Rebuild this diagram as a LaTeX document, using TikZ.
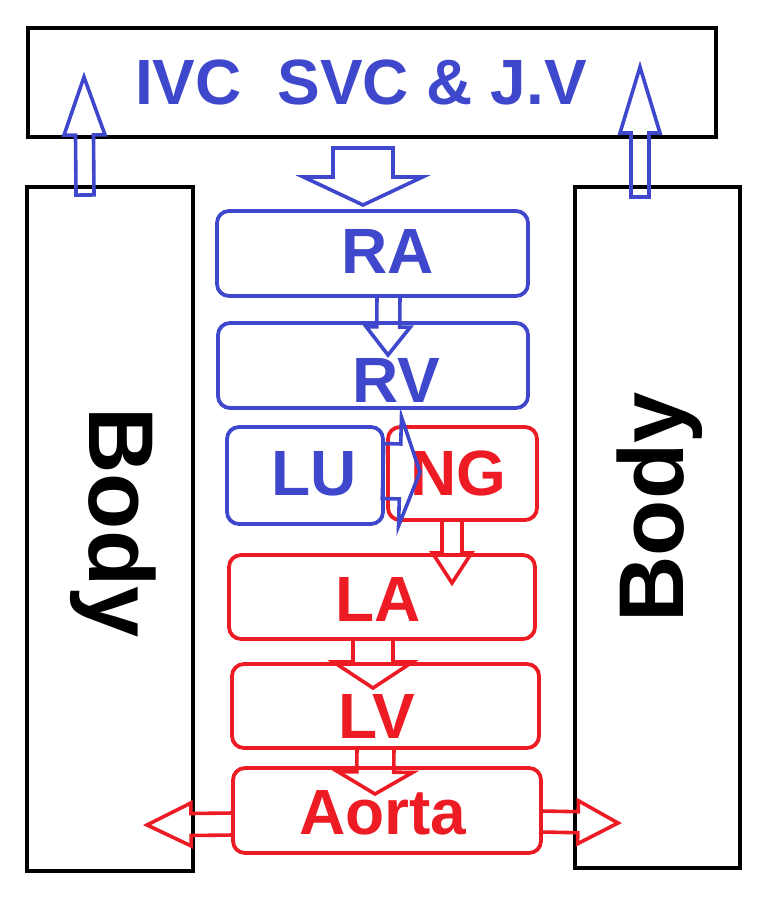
\documentclass[tikz,border=0pt]{standalone}
\usepackage{fontspec}
\setmainfont{Liberation Sans}
\usetikzlibrary{calc}

\definecolor{venblue}{RGB}{63,72,204}
\definecolor{artred}{RGB}{237,28,36}

% hollow block arrow: [colour]{tail}{tip}{half shaft}{half head}{head length}
\newcommand{\flowarrow}[6][venblue]{%
  \coordinate (fa-base) at ($#3!#6!#2$);
  \draw[flow, draw=#1] ($#2!#4!90:#3$) -- ($(fa-base)!#4!90:#3$)
    -- ($(fa-base)!#5!90:#3$) -- #3 -- ($(fa-base)!#5!-90:#3$)
    -- ($(fa-base)!#4!-90:#3$) -- ($#2!#4!-90:#3$) -- cycle;
}

\begin{document}
\begin{tikzpicture}[
  x=1pt, y=-1pt,
  lbl/.style={font=\fontsize{64}{64}\selectfont\bfseries},
  big/.style={font=\fontsize{92}{92}\selectfont\bfseries},
  frame/.style={draw=black, line width=4.5pt, inner sep=0pt, outer sep=0pt},
  chamber/.style={draw=#1, line width=3.8pt, rounded corners=12pt, inner sep=0pt, outer sep=0pt},
  flow/.style={line width=3.6pt, line join=miter}
]
  \useasboundingbox (0,0) rectangle (768,900);

  % veins and body
  \node[frame, minimum width=688, minimum height=109,
    label={[lbl, venblue, xshift=-11]center:{IVC\ \ SVC \& J.V}}] (veins) at (372,82.5) {};
  \node[frame, minimum width=166, minimum height=684,
    label={[big, xshift=3.5, yshift=6.5, rotate=-90]center:Body}] (bodyL) at (110,529) {};
  \node[frame, minimum width=165, minimum height=681,
    label={[big, xshift=2, yshift=20, rotate=90]center:Body}] (bodyR) at (657.5,527.5) {};

  % chambers
  \node[chamber=venblue, minimum width=311, minimum height=85,
    label={[lbl, venblue, xshift=15, yshift=2]center:RA}] (RA) at (372.5,253.5) {};
  \node[chamber=venblue, minimum width=310, minimum height=85,
    label={[lbl, venblue, xshift=23, yshift=-14.5]center:RV}] (RV) at (373,365.5) {};
  \node[chamber=venblue, minimum width=156, minimum height=97,
    label={[lbl, venblue, xshift=9.5, yshift=2]center:LU}] (LU) at (305,475.5) {};
  \node[chamber=artred, minimum width=149, minimum height=93,
    label={[lbl, artred, xshift=-4.5]center:NG}] (NG) at (462.5,473.5) {};
  \node[chamber=artred, minimum width=306, minimum height=84,
    label={[lbl, artred, xshift=-4, yshift=-2]center:LA}] (LA) at (382,597) {};
  \node[chamber=artred, minimum width=307, minimum height=84,
    label={[lbl, artred, xshift=-8.5, yshift=-10]center:LV}] (LV) at (385.5,706) {};
  \node[chamber=artred, minimum width=308, minimum height=85,
    label={[lbl, artred, xshift=-4, yshift=-2]center:Aorta}] (aorta) at (387,810.5) {};

  % return to the heart
  \flowarrow{([shift={(-25,8)}]bodyL.north)}{([shift={(56,-60)}]veins.south west)}{9pt}{20.5pt}{58pt}
  \flowarrow{([shift={(-17.5,10)}]bodyR.north)}{([shift={(-76,-70)}]veins.south east)}{9pt}{20pt}{66pt}
  \flowarrow{([shift={(-9,11)}]veins.south)}{([shift={(-9.5,-6)}]RA.north)}{30pt}{59.5pt}{28pt}
  \flowarrow{([xshift=16]RA.south)}{([shift={(15,32)}]RV.north)}{11.5pt}{22pt}{28pt}

  % through the lung
  \flowarrow{([yshift=4.5]LU.east)}{([shift={(32,-1.5)}]NG.west)}{27.5pt}{54.5pt}{20pt}
  \flowarrow[artred]{([xshift=-10.5]NG.south)}{([shift={(70,28)}]LA.north)}{10pt}{19.5pt}{30pt}
  \flowarrow[artred]{([xshift=-9]LA.south)}{([shift={(-12.5,24)}]LV.north)}{20pt}{39.5pt}{26pt}
  \flowarrow[artred]{([xshift=-10]LV.south)}{([shift={(-12,26)}]aorta.north)}{18.5pt}{37.5pt}{22pt}

  % out to the body
  \flowarrow[artred]{([yshift=-13.5]aorta.west)}{([shift={(-86,14.5)}]aorta.west)}{11pt}{21.5pt}{44pt}
  \flowarrow[artred]{([yshift=-11]aorta.east)}{([shift={(77,12.5)}]aorta.east)}{10.5pt}{21.5pt}{40pt}
\end{tikzpicture}
\end{document}
